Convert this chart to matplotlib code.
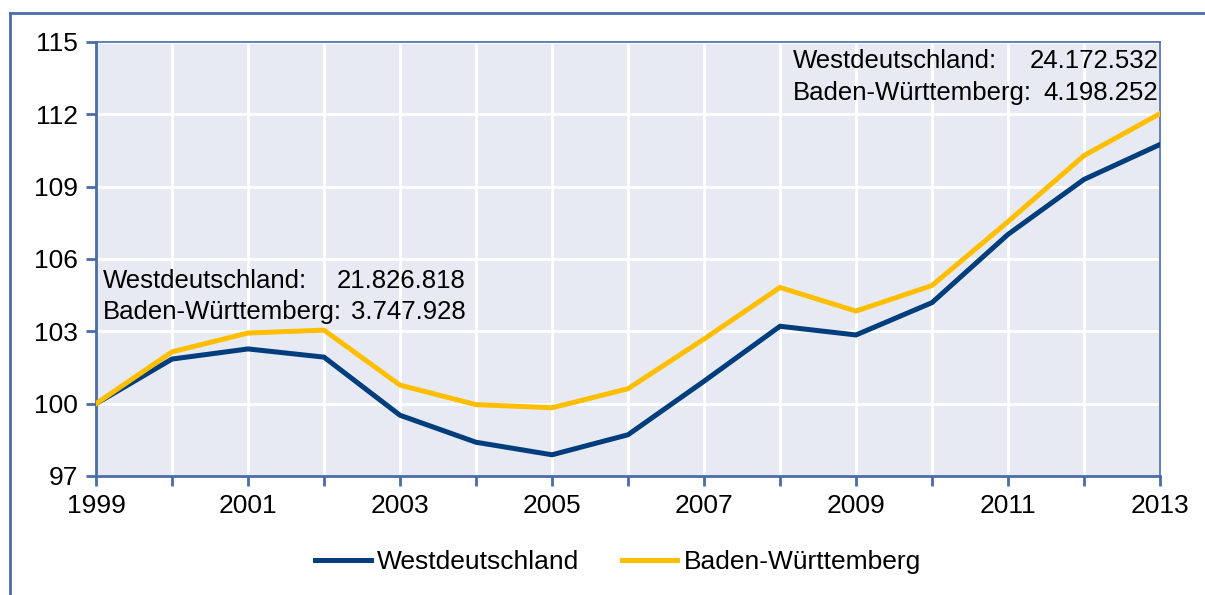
import matplotlib
matplotlib.use("Agg")

import matplotlib.pyplot as plt
from matplotlib.lines import Line2D

plt.rcParams["font.family"] = ["Liberation Sans", "DejaVu Sans"]

years = list(range(1999, 2014))
west = [100.0, 101.85, 102.27, 101.93, 99.52, 98.40, 97.88, 98.71,
        100.93, 103.21, 102.85, 104.19, 107.02, 109.30, 110.75]
bw = [100.0, 102.15, 102.93, 103.05, 100.77, 99.96, 99.83, 100.62,
      102.68, 104.82, 103.84, 104.90, 107.55, 110.29, 112.03]
series_names = ["Westdeutschland", "Baden-Württemberg"]
yticks = [97, 100, 103, 106, 109, 112, 115]
xlabel_years = [1999, 2001, 2003, 2005, 2007, 2009, 2011, 2013]
note_1999 = ("21.826.818", "3.747.928")
note_2013 = ("24.172.532", "4.198.252")

NAVY = "#003d7c"
GOLD = "#ffbf00"
FRAME = "#4a6ca8"
BG = "#e7eaf2"
FS = 19
FS_NOTE = 18.5

fig = plt.figure(figsize=(12.05, 5.95), dpi=100)
ax = fig.add_axes([96 / 1205, 1 - 476 / 595, (1160 - 96) / 1205, (476 - 42) / 595])

# outer frame (left + top edge, rest is cut off)
fig.add_artist(Line2D([10 / 1205, 10 / 1205], [0, 1 - 13 / 595],
                      transform=fig.transFigure, color=FRAME, lw=2))
fig.add_artist(Line2D([10 / 1205, 1], [1 - 13 / 595, 1 - 13 / 595],
                      transform=fig.transFigure, color=FRAME, lw=2))

ax.set_facecolor(BG)
ax.plot(years, west, color=NAVY, lw=3.6, solid_joinstyle="miter", zorder=3,
        label=series_names[0])
ax.plot(years, bw, color=GOLD, lw=3.6, solid_joinstyle="miter", zorder=3,
        label=series_names[1])

ax.set_xlim(1999, 2013)
ax.set_ylim(97, 115)
ax.set_yticks(yticks)
ax.set_xticks(years)
ax.set_xticklabels([str(y) if y in xlabel_years else "" for y in years])
ax.grid(True, color="white", lw=2, zorder=1)
ax.set_axisbelow(True)

for side in ["left", "bottom"]:
    ax.spines[side].set_color(FRAME)
    ax.spines[side].set_linewidth(2)
for side in ["top", "right"]:
    ax.spines[side].set_color(FRAME)
    ax.spines[side].set_linewidth(1.2)
ax.tick_params(axis="both", colors=FRAME, width=2, length=7, direction="out",
               labelsize=FS, labelcolor="black")
ax.tick_params(axis="y", pad=6)
ax.tick_params(axis="x", pad=6)

# annotations with population numbers
ax.text(1999.09, 105.1, "Westdeutschland:", fontsize=FS_NOTE, va="center")
ax.text(2003.87, 105.1, note_1999[0], fontsize=FS_NOTE, va="center", ha="right")
ax.text(1999.09, 103.8, "Baden-Württemberg:", fontsize=FS_NOTE, va="center")
ax.text(2003.87, 103.8, note_1999[1], fontsize=FS_NOTE, va="center", ha="right")

ax.text(2008.17, 114.2, "Westdeutschland:", fontsize=FS_NOTE, va="center")
ax.text(2012.98, 114.2, note_2013[0], fontsize=FS_NOTE, va="center", ha="right")
ax.text(2008.17, 112.9, "Baden-Württemberg:", fontsize=FS_NOTE, va="center")
ax.text(2012.98, 112.9, note_2013[1], fontsize=FS_NOTE, va="center", ha="right")

fig.legend(loc="center", bbox_to_anchor=(618 / 1205, 1 - 562 / 595), ncol=2,
           frameon=False, fontsize=FS, handlelength=2.1, handletextpad=0.25,
           columnspacing=1.6)

fig.savefig("out.png", dpi=100, facecolor="white")
